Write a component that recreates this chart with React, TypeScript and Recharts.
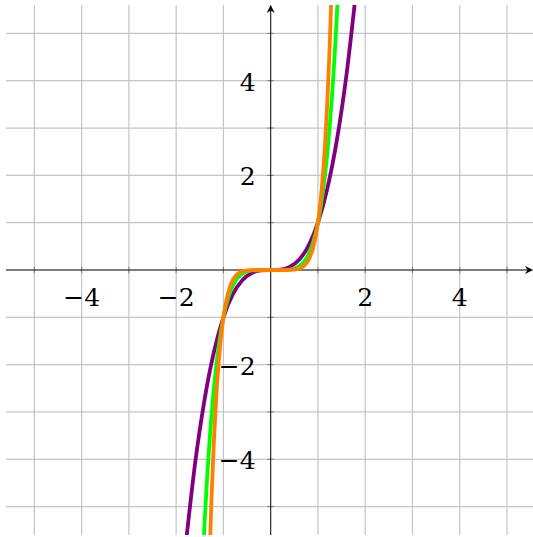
// Plot of y = x^3, x^5 and x^7 on a square grid with arrowed axes
import { LineChart, Line, XAxis, YAxis, CartesianGrid, ReferenceLine, ReferenceDot } from "recharts";

// y = x^3
const cubeX = [-1.8, -1.6, -1.4, -1.2, -1, -0.8, -0.6, -0.4, -0.2, 0, 0.2, 0.4, 0.6, 0.8, 1, 1.2, 1.4, 1.6, 1.8];
const cubeY = [-5.832, -4.096, -2.744, -1.728, -1, -0.512, -0.216, -0.064, -0.008, 0, 0.008, 0.064, 0.216, 0.512, 1, 1.728, 2.744, 4.096, 5.832];

// y = x^5
const fifthX = [-1.45, -1.4, -1.3, -1.2, -1.1, -1, -0.9, -0.8, -0.6, -0.4, -0.2, 0, 0.2, 0.4, 0.6, 0.8, 0.9, 1, 1.1, 1.2, 1.3, 1.4, 1.45];
const fifthY = [-6.41, -5.378, -3.713, -2.488, -1.611, -1, -0.59, -0.328, -0.0778, -0.0102, -0.0003, 0, 0.0003, 0.0102, 0.0778, 0.328, 0.59, 1, 1.611, 2.488, 3.713, 5.378, 6.41];

// y = x^7
const seventhX = [-1.3, -1.25, -1.2, -1.15, -1.1, -1.05, -1, -0.9, -0.8, -0.7, -0.6, -0.4, -0.2, 0, 0.2, 0.4, 0.6, 0.7, 0.8, 0.9, 1, 1.05, 1.1, 1.15, 1.2, 1.25, 1.3];
const seventhY = [-6.275, -4.768, -3.583, -2.66, -1.949, -1.407, -1, -0.478, -0.21, -0.0824, -0.028, -0.0016, 0, 0, 0, 0.0016, 0.028, 0.0824, 0.21, 0.478, 1, 1.407, 1.949, 2.66, 3.583, 4.768, 6.275];

const gridValues = [-5, -4, -3, -2, -1, 0, 1, 2, 3, 4, 5];
const tickValues = [-5, -4, -3, -2, -1, 1, 2, 3, 4, 5];
const xLabels = [-4, -2, 2, 4];
const yLabels = [-4, -2, 2, 4];

const X_MIN = -5.6;
const X_MAX = 5.55;
const Y_MIN = -5.6;
const Y_MAX = 5.6;

const toPoints = (xs: number[], ys: number[]) => xs.map((x, i) => ({ x, y: ys[i] }));

const fmt = (v: number) => (v < 0 ? "\u2212" + Math.abs(v) : String(v));

// axis line with a small arrowhead at its end
const ArrowLine = (props: any) => {
  const { x1, y1, x2, y2 } = props;
  const len = Math.hypot(x2 - x1, y2 - y1) || 1;
  const dx = (x2 - x1) / len;
  const dy = (y2 - y1) / len;
  const nx = -dy;
  const ny = dx;
  const bx = x2 - dx * 8;
  const by = y2 - dy * 8;
  const nbx = x2 - dx * 5.5;
  const nby = y2 - dy * 5.5;
  const head = `M${x2},${y2} L${bx + nx * 4},${by + ny * 4} L${nbx},${nby} L${bx - nx * 4},${by - ny * 4} Z`;
  return (
    <g>
      <line x1={x1} y1={y1} x2={nbx} y2={nby} stroke="#000" strokeWidth={0.9} />
      <path d={head} fill="#000" />
    </g>
  );
};

// tick number placed next to its tick on the axis
const TickText = ({ x, y, anchor, value }: { x: number; y: number; anchor: string; value: number }) => (
  <text
    x={x}
    y={y}
    textAnchor={anchor}
    fontFamily="DejaVu Serif"
    fontSize={25}
    fill="#000"
    style={{ fontFamily: "DejaVu Serif", fontSize: "25px", fontWeight: 300 }}
  >
    {fmt(value)}
  </text>
);

export default function App() {
  return (
    <div style={{ position: "absolute", left: 0, top: 0, background: "#fff" }}>
      <LineChart width={533} height={537} margin={{ top: 5, right: 0, bottom: 2, left: 6 }}>
        <XAxis type="number" dataKey="x" domain={[X_MIN, X_MAX]} allowDataOverflow hide />
        <YAxis type="number" dataKey="y" domain={[Y_MIN, Y_MAX]} allowDataOverflow hide />
        <CartesianGrid
          verticalValues={gridValues}
          horizontalValues={gridValues}
          stroke="#c4c4c4"
          strokeWidth={1.2}
        />
        {tickValues.map((v) => (
          <ReferenceLine
            key={`xt${v}`}
            segment={[{ x: v, y: -0.07 }, { x: v, y: 0.07 }]}
            stroke="#666"
            strokeWidth={0.8}
          />
        ))}
        {tickValues.map((v) => (
          <ReferenceLine
            key={`yt${v}`}
            segment={[{ x: -0.07, y: v }, { x: 0.07, y: v }]}
            stroke="#666"
            strokeWidth={0.8}
          />
        ))}
        <ReferenceLine segment={[{ x: X_MIN, y: 0 }, { x: X_MAX, y: 0 }]} shape={ArrowLine} />
        <ReferenceLine segment={[{ x: 0, y: Y_MIN }, { x: 0, y: Y_MAX }]} shape={ArrowLine} />
        {xLabels.map((v) => (
          <ReferenceDot
            key={`xl${v}`}
            x={v}
            y={0}
            r={0}
            shape={(p: any) => <TickText x={p.cx} y={p.cy + 36} anchor="middle" value={v} />}
          />
        ))}
        {yLabels.map((v) => (
          <ReferenceDot
            key={`yl${v}`}
            x={0}
            y={v}
            r={0}
            shape={(p: any) => <TickText x={p.cx - 15} y={p.cy + 10} anchor="end" value={v} />}
          />
        ))}
        <Line
          data={toPoints(cubeX, cubeY)}
          dataKey="y"
          type="monotone"
          stroke="#800080"
          strokeWidth={3.8}
          dot={false}
          isAnimationActive={false}
        />
        <Line
          data={toPoints(fifthX, fifthY)}
          dataKey="y"
          type="monotone"
          stroke="#00ff00"
          strokeWidth={3.8}
          dot={false}
          isAnimationActive={false}
        />
        <Line
          data={toPoints(seventhX, seventhY)}
          dataKey="y"
          type="monotone"
          stroke="#ff8000"
          strokeWidth={3.8}
          dot={false}
          isAnimationActive={false}
        />
      </LineChart>
    </div>
  );
}
